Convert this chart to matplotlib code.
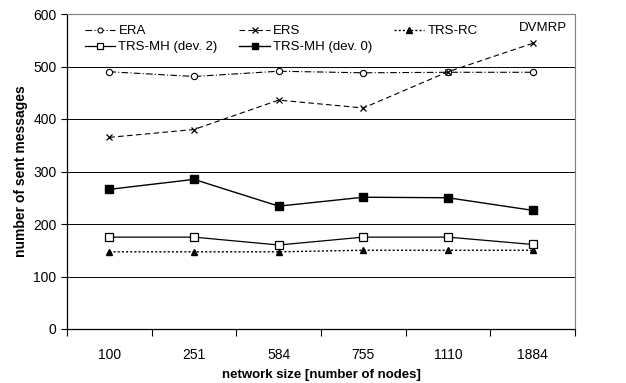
import numpy as np
import matplotlib
matplotlib.use('Agg')
import matplotlib.pyplot as plt

plt.rcParams['font.family'] = ['Liberation Sans', 'DejaVu Sans']

sizes = ['100', '251', '584', '755', '1110', '1884']
era = [490, 481, 491, 488, 489, 489]
ers = [365, 380, 436, 421, 490, 544]
trs_rc = [147, 147, 147, 150, 150, 150]
trs_mh2 = [175, 175, 160, 175, 175, 161]
trs_mh0 = [266, 285, 234, 251, 250, 226]

fig = plt.figure(figsize=(6.26, 3.83), dpi=100)
ax = fig.add_axes([67 / 626, 1 - 329 / 383, 508 / 626, 315 / 383])

x = np.arange(len(sizes))
l_era, = ax.plot(x, era, color='black', lw=0.8, ls=(0, (6, 2, 1, 2)),
                 marker='o', ms=4.5, mfc='white', mec='black', mew=0.8, label='ERA')
l_ers, = ax.plot(x, ers, color='black', lw=0.8, ls=(0, (5, 3)),
                 marker='x', ms=5, mew=0.9, label='ERS')
l_rc, = ax.plot(x, trs_rc, color='black', lw=1.0, ls=(0, (1.5, 1.5)),
                marker='^', ms=5, mfc='black', label='TRS-RC')
l_mh2, = ax.plot(x, trs_mh2, color='black', lw=0.9, ls='-',
                 marker='s', ms=5.5, mfc='white', mec='black', mew=0.9, label='TRS-MH (dev. 2)')
l_mh0, = ax.plot(x, trs_mh0, color='black', lw=1.0, ls='-',
                 marker='s', ms=5.5, mfc='black', label='TRS-MH (dev. 0)')

ax.set_xlim(-0.5, len(sizes) - 0.5)
ax.set_ylim(0, 600)
ax.set_yticks(range(0, 601, 100))
ax.yaxis.grid(True, color='black', lw=0.7)
ax.set_axisbelow(True)

ax.set_xticks(x)
ax.set_xticklabels(sizes, fontsize=10)
ax.tick_params(axis='x', length=0, pad=14)
ax.set_xticks(np.arange(-0.5, len(sizes)), minor=True)
ax.tick_params(axis='x', which='minor', length=5, direction='out', width=0.8)
ax.tick_params(axis='y', labelsize=10, length=4, width=0.8, direction='out')

for s in ['top', 'right']:
    ax.spines[s].set_color('#808080')
    ax.spines[s].set_linewidth(0.8)
for s in ['left', 'bottom']:
    ax.spines[s].set_linewidth(0.9)

ax.set_xlabel('network size [number of nodes]', fontsize=9.5, fontweight='bold', labelpad=5)
ax.set_ylabel('number of sent messages', fontsize=10, fontweight='bold', labelpad=4)

ax.text(0.985, 0.955, 'DVMRP', transform=ax.transAxes, ha='right', va='center', fontsize=9.5)

ax.legend([l_era, l_mh2, l_ers, l_mh0, l_rc],
          ['ERA', 'TRS-MH (dev. 2)', 'ERS', 'TRS-MH (dev. 0)', 'TRS-RC'],
          ncol=3, loc='upper left', bbox_to_anchor=(0.035, 0.965), frameon=False,
          fontsize=9.5, handlelength=2.3, handletextpad=0.25, columnspacing=1.65,
          labelspacing=0.3, borderaxespad=0, borderpad=0, markerscale=0.8)

fig.savefig('out.png', dpi=100)
